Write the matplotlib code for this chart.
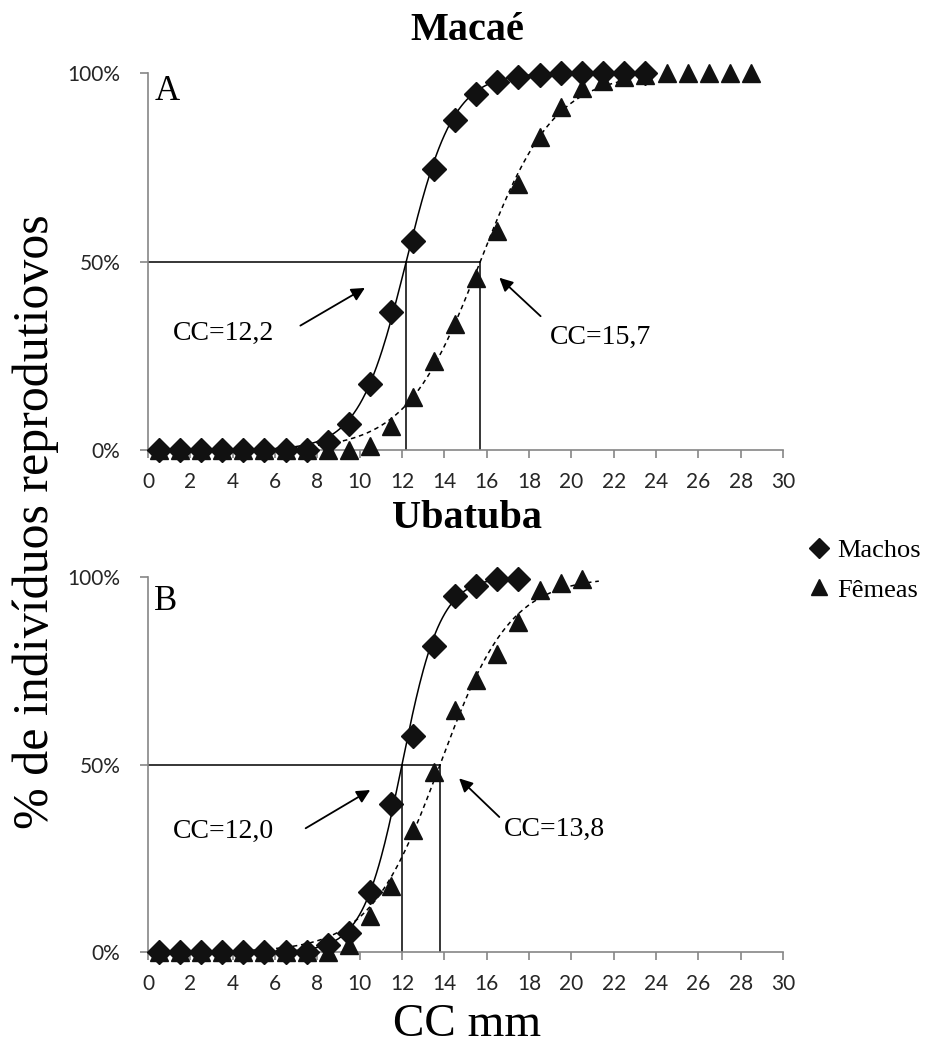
import numpy as np
import matplotlib
matplotlib.use('Agg')
import matplotlib.pyplot as plt
from matplotlib.lines import Line2D

# classes de tamanho (CC mm, ponto medio)
cc_macae_machos = np.arange(0.5, 24, 1.0)
cc_macae_femeas = np.arange(0.5, 29, 1.0)
cc_uba_machos = np.arange(0.5, 18, 1.0)
cc_uba_femeas = np.arange(0.5, 21, 1.0)

# proporcao de individuos reprodutivos
macae_machos = [0, 0, 0, 0, 0, 0, 0, 0, 0.02, 0.07, 0.175, 0.365, 0.555, 0.745, 0.875,
                0.945, 0.975, 0.99, 0.995, 1, 1, 1, 1, 1]
macae_femeas = [0, 0, 0, 0, 0, 0, 0, 0, 0, 0, 0.01, 0.065, 0.14, 0.235, 0.335, 0.455,
                0.58, 0.705, 0.83, 0.91, 0.96, 0.98, 0.99, 0.995, 1, 1, 1, 1, 1]
uba_machos = [0, 0, 0, 0, 0, 0, 0, 0, 0.018, 0.05, 0.16, 0.395, 0.575, 0.815, 0.95,
              0.975, 0.995, 0.995]
uba_femeas = [0, 0, 0, 0, 0, 0, 0, 0, 0, 0.018, 0.095, 0.175, 0.325, 0.48, 0.645,
              0.725, 0.795, 0.88, 0.965, 0.985, 0.995]

# parametros do ajuste logistico (CC50 e inclinacao)
l50_macae = [12.2, 15.7]
r_macae = [0.9, 0.57]
fim_macae = [20.5, 22.5]
l50_uba = [12.0, 13.8]
r_uba = [1.1, 0.6]
fim_uba = [17.5, 21.3]

serif = 'Liberation Serif'
tick_font = 'Lato'


def painel(ax, xm, ym, xf, yf, l50, r, fim, letra, y_letra, txt_pos, setas):
    # curvas ajustadas
    x = np.linspace(0.5, fim[0], 300)
    ax.plot(x, 1 / (1 + np.exp(-r[0] * (x - l50[0]))), color='black', lw=1.1)
    x = np.linspace(0.5, fim[1], 300)
    ax.plot(x, 1 / (1 + np.exp(-r[1] * (x - l50[1]))), color='black', lw=1.1,
            ls=(0, (3, 2.5)))
    # linhas do CC50
    ax.plot([0, l50[1]], [0.5, 0.5], color='black', lw=1.1)
    ax.plot([l50[0], l50[0]], [0, 0.5], color='black', lw=1.1)
    ax.plot([l50[1], l50[1]], [0, 0.5], color='black', lw=1.1)
    # pontos
    ax.plot(xm, ym, 'D', color='#111111', ms=12, clip_on=False, zorder=3)
    ax.plot(xf, yf, '^', color='#111111', ms=13, clip_on=False, zorder=4)

    for (tx, ty), val in zip(txt_pos, l50):
        ax.text(tx, ty, 'CC=' + str(val).replace('.', ','), fontsize=20,
                family=serif, va='center', ha='left')
    for tail, head in setas:
        ax.annotate('', xy=head, xytext=tail,
                    arrowprops=dict(arrowstyle='-|>', color='black', lw=1.3,
                                    mutation_scale=20, shrinkA=0, shrinkB=0))

    ax.text(0.3, y_letra, letra, fontsize=25, family=serif, va='center', ha='left')

    ax.set_xlim(0, 30)
    ax.set_ylim(0, 1)
    ax.set_xticks(np.arange(0, 31, 2))
    ax.set_yticks([0, 0.5, 1])
    ax.set_yticklabels(['0%', '50%', '100%'])
    for s in ['top', 'right']:
        ax.spines[s].set_visible(False)
    for s in ['left', 'bottom']:
        ax.spines[s].set_color('#868686')
        ax.spines[s].set_linewidth(1.2)
    ax.tick_params(axis='both', colors='#868686', length=6, width=1.2,
                   labelcolor='#262626', labelsize=15)
    ax.tick_params(axis='x', pad=10)
    ax.tick_params(axis='y', pad=14)
    for lab in ax.get_xticklabels() + ax.get_yticklabels():
        lab.set_family(tick_font)


fig = plt.figure(figsize=(9.3, 10.48), dpi=100)
ax1 = fig.add_axes([0.1591, 0.5706, 0.6828, 0.3597])
ax2 = fig.add_axes([0.1591, 0.0916, 0.6828, 0.3578])

painel(ax1, cc_macae_machos, macae_machos, cc_macae_femeas, macae_femeas,
       l50_macae, r_macae, fim_macae, 'A', 0.95,
       [(1.2, 0.31), (19.0, 0.30)],
       [((7.2, 0.33), (10.25, 0.43)), ((18.55, 0.355), (16.6, 0.457))])
painel(ax2, cc_uba_machos, uba_machos, cc_uba_femeas, uba_femeas,
       l50_uba, r_uba, fim_uba, 'B', 0.934,
       [(1.2, 0.322), (16.8, 0.327)],
       [((7.45, 0.33), (10.5, 0.432)), ((16.6, 0.36), (14.7, 0.463))])

fig.text(0.502, 0.971, 'Macaé', fontsize=29, fontweight='bold', family=serif,
         ha='center', va='center')
fig.text(0.502, 0.505, 'Ubatuba', fontsize=29, fontweight='bold', family=serif,
         ha='center', va='center')
fig.text(0.038, 0.502, '% de indivíduos reprodutiovos', fontsize=36, family=serif,
         rotation=90, ha='center', va='center')
fig.text(0.502, 0.022, 'CC mm', fontsize=34, family=serif, ha='center', va='center')

handles = [Line2D([], [], ls='none', marker='D', color='#111111', ms=10),
           Line2D([], [], ls='none', marker='^', color='#111111', ms=12)]
fig.legend(handles, ['Machos', 'Fêmeas'], loc='center left',
           bbox_to_anchor=(0.866, 0.456), frameon=False,
           prop={'family': serif, 'size': 19}, handletextpad=0.2,
           labelspacing=0.6, handlelength=1.0, borderaxespad=0, borderpad=0)

fig.savefig('out.png', dpi=100)
